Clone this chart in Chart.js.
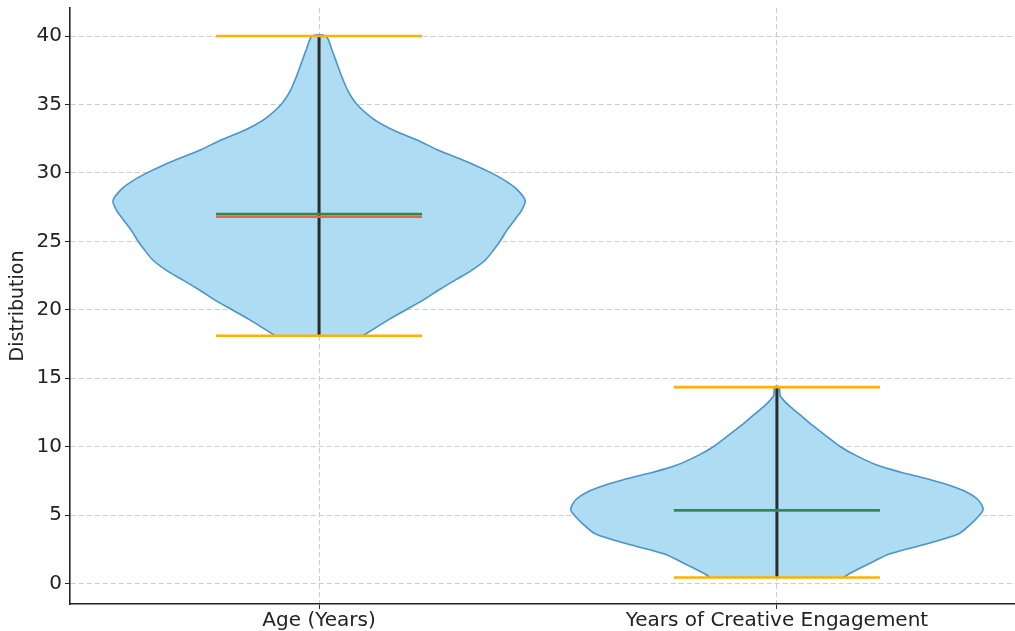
<!DOCTYPE html>
<html>
<head>
<meta charset="utf-8">
<script src="https://cdn.jsdelivr.net/npm/chart.js@4"></script>
<style>
  html, body { margin: 0; padding: 0; background: #fff; }
  #wrap { width: 1015px; height: 631px; position: relative; }
</style>
</head>
<body>
<div id="wrap"><canvas id="violin"></canvas></div>
<script>
// categories and where they sit on the x axis
const categories = ['Age (Years)', 'Years of Creative Engagement'];
const positions = [1, 2];

// violin outlines: y level -> half width (in x-axis units)
const ageLevels = [18.1, 18.7, 19.3, 20.0, 20.7, 21.5, 22.2, 22.9, 23.6, 24.4, 25.1, 25.8, 26.6, 27.3, 28.0,
  28.8, 29.4, 30.0, 30.6, 31.2, 31.7, 32.4, 33.0, 33.5, 34.0, 35.0, 36.0, 37.0, 38.0, 39.0, 40.0];
const ageHalfWidths = [0.096, 0.124, 0.153, 0.190, 0.227, 0.264, 0.299, 0.334, 0.362, 0.382, 0.397, 0.410, 0.428, 0.443, 0.450,
  0.432, 0.408, 0.376, 0.338, 0.295, 0.258, 0.214, 0.170, 0.140, 0.116, 0.083, 0.063, 0.050, 0.039, 0.028, 0.015];

const engLevels = [0.44, 0.71, 1.44, 2.17, 2.90, 3.63, 4.36, 4.97, 5.34, 5.70, 6.19, 6.67, 7.16, 7.65, 8.14,
  8.63, 9.36, 10.01, 10.82, 11.55, 12.28, 13.01, 13.38, 13.74, 14.35];
const engHalfWidths = [0.146, 0.158, 0.201, 0.247, 0.328, 0.397, 0.424, 0.442, 0.450, 0.448, 0.437, 0.415, 0.378, 0.328, 0.269,
  0.220, 0.172, 0.138, 0.106, 0.078, 0.052, 0.026, 0.015, 0.007, 0.005];

// summary statistics
const mins = [18.1, 0.44];
const maxs = [40.0, 14.35];
const medians = [27.0, 5.35];
const means = [26.8, 5.35];

const yTicks = [0, 5, 10, 15, 20, 25, 30, 35, 40];

const capHalf = 0.225;

const outline = (pos, levels, widths) => {
  let pts = [];
  for (let i = 0; i < levels.length; i++) pts.push({x: pos + widths[i], y: levels[i]});
  for (let i = levels.length - 1; i >= 0; i--) pts.push({x: pos - widths[i], y: levels[i]});
  return pts;
};

const hLine = (pos, v, color, order) => ({
  data: [{x: pos - capHalf, y: v}, {x: pos + capHalf, y: v}],
  borderColor: color,
  borderWidth: 2.6,
  pointRadius: 0,
  fill: false,
  order: order
});

let datasets = [];
const shapes = [[ageLevels, ageHalfWidths], [engLevels, engHalfWidths]];

positions.forEach((pos, i) => {
  datasets.push({
    data: outline(pos, shapes[i][0], shapes[i][1]),
    borderColor: 'rgba(74,148,200,1)',
    backgroundColor: 'rgba(174,220,243,1)',
    borderWidth: 1.6,
    pointRadius: 0,
    tension: 0.3,
    fill: 'shape',
    order: 6
  });
  datasets.push({
    data: [{x: pos, y: mins[i]}, {x: pos, y: maxs[i]}],
    borderColor: '#2b2b2b',
    borderWidth: 3,
    pointRadius: 0,
    fill: false,
    order: 5
  });
  datasets.push(hLine(pos, means[i], '#f2633f', 4));
  datasets.push(hLine(pos, medians[i], '#2e8650', 3));
  datasets.push(hLine(pos, mins[i], '#ffb000', 2));
  datasets.push(hLine(pos, maxs[i], '#ffb000', 2));
});

new Chart(document.getElementById('violin'), {
  type: 'line',
  data: { datasets: datasets },
  options: {
    responsive: true,
    maintainAspectRatio: false,
    animation: false,
    layout: { padding: { top: 8, right: 0, left: 0, bottom: 0 } },
    plugins: { legend: { display: false }, tooltip: { enabled: false } },
    scales: {
      x: {
        type: 'linear',
        min: 0.456,
        max: 2.52,
        afterBuildTicks: (axis) => { axis.ticks = positions.map(p => ({value: p})); },
        afterFit: (scale) => {
          scale.height = 27;
          scale.paddingLeft = 0;
          scale.paddingRight = 0;
        },
        ticks: {
          callback: (v) => categories[positions.indexOf(v)],
          color: '#222',
          font: { family: 'DejaVu Sans', size: 20 },
          padding: 0,
          maxRotation: 0,
          autoSkip: false
        },
        grid: {
          color: '#cccccc',
          tickColor: '#222',
          tickBorderDash: [],
          tickLength: 5,
          lineWidth: 1
        },
        border: { display: true, color: '#222', width: 1.6, dash: [5, 3] }
      },
      y: {
        type: 'linear',
        min: -1.5,
        max: 42.05,
        afterBuildTicks: (axis) => { axis.ticks = yTicks.map(v => ({value: v})); },
        afterFit: (scale) => {
          scale.width = 70;
          scale.paddingTop = 0;
          scale.paddingBottom = 0;
        },
        ticks: {
          color: '#222',
          font: { family: 'DejaVu Sans', size: 20 },
          padding: 3
        },
        grid: {
          color: '#cccccc',
          tickColor: '#222',
          tickBorderDash: [],
          tickLength: 5,
          lineWidth: 1
        },
        border: { display: true, color: '#222', width: 1.6, dash: [5, 3] },
        title: {
          display: true,
          text: 'Distribution',
          color: '#222',
          font: { family: 'DejaVu Sans', size: 19 },
          padding: { top: 7, bottom: 0 }
        }
      }
    }
  }
});
</script>
</body>
</html>
